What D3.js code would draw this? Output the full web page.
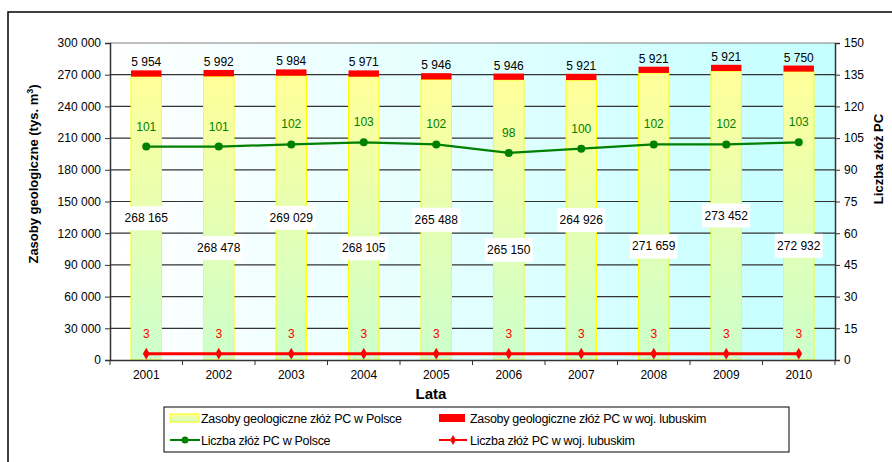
<!DOCTYPE html>
<html>
<head>
<meta charset="utf-8">
<script src="https://cdnjs.cloudflare.com/ajax/libs/d3/7.8.5/d3.min.js"></script>
<style>
  body { margin: 0; background: #fff; }
  text { font-family: Arial, "Liberation Sans", sans-serif; }
</style>
</head>
<body>
<div id="chart"></div>
<script>
// dane
var years = ["2001", "2002", "2003", "2004", "2005", "2006", "2007", "2008", "2009", "2010"];
var zasobyPolska = [268165, 268478, 269029, 268105, 265488, 265150, 264926, 271659, 273452, 272932];
var zasobyLubuskie = [5954, 5992, 5984, 5971, 5946, 5946, 5921, 5921, 5921, 5750];
var liczbaPolska = [101, 101, 102, 103, 102, 98, 100, 102, 102, 103];
var liczbaLubuskie = [3, 3, 3, 3, 3, 3, 3, 3, 3, 3];
var leftTicks = [0, 30000, 60000, 90000, 120000, 150000, 180000, 210000, 240000, 270000, 300000];
var rightTicks = [0, 15, 30, 45, 60, 75, 90, 105, 120, 135, 150];

var svgWidth = 892;
var svgHeight = 462;
var margin = { top: 43, right: 57, bottom: 102, left: 110 };
var width = svgWidth - margin.left - margin.right;
var height = svgHeight - margin.top - margin.bottom;

var fmt = function(v) { return d3.format(",")(v).replace(/,/g, " "); };

var svg = d3.select("#chart").append("svg")
    .attr("width", svgWidth)
    .attr("height", svgHeight);

var defs = svg.append("defs");
var bg = defs.append("linearGradient").attr("id", "bgGrad")
    .attr("x1", "0%").attr("y1", "0%").attr("x2", "100%").attr("y2", "0%");
bg.append("stop").attr("offset", "0%").attr("stop-color", "#ffffff");
bg.append("stop").attr("offset", "100%").attr("stop-color", "#c4ffff");

var barGrad = defs.append("linearGradient").attr("id", "barGrad")
    .attr("x1", "0%").attr("y1", "0%").attr("x2", "0%").attr("y2", "100%");
barGrad.append("stop").attr("offset", "0%").attr("stop-color", "#ffff99");
barGrad.append("stop").attr("offset", "100%").attr("stop-color", "#ccffcc");

// ramka wykresu
svg.append("rect")
    .attr("x", 8).attr("y", 12)
    .attr("width", 900).attr("height", 470)
    .attr("fill", "none").attr("stroke", "#000").attr("stroke-width", 1.5);

var chartGroup = svg.append("g")
    .attr("transform", `translate(${margin.left}, ${margin.top})`);

var xScale = d3.scaleBand()
    .domain(years)
    .range([0, width])
    .paddingInner(0.58)
    .paddingOuter(0.29);

var yLeft = d3.scaleLinear().domain([0, 300000]).range([height, 0]);
var yRight = d3.scaleLinear().domain([0, 150]).range([height, 0]);

chartGroup.append("rect")
    .attr("width", width).attr("height", height)
    .attr("fill", "url(#bgGrad)");

// linie siatki
chartGroup.selectAll(".grid")
    .data(leftTicks.slice(1))
    .enter()
    .append("line")
    .attr("x1", 0).attr("x2", width)
    .attr("y1", d => yLeft(d)).attr("y2", d => yLeft(d))
    .attr("stroke", d => d === 300000 ? "#808080" : "#333")
    .attr("stroke-width", 1.2);

// slupki
var stacks = years.map((y, i) => ({ year: y, pl: zasobyPolska[i], lub: zasobyLubuskie[i], i: i }));

chartGroup.selectAll(".barPl")
    .data(stacks)
    .enter()
    .append("rect")
    .attr("x", d => xScale(d.year))
    .attr("y", d => yLeft(d.pl))
    .attr("width", xScale.bandwidth())
    .attr("height", d => height - yLeft(d.pl))
    .attr("fill", "url(#barGrad)")
    .attr("stroke", "#ffff00")
    .attr("stroke-width", 1);

chartGroup.selectAll(".barLub")
    .data(stacks)
    .enter()
    .append("rect")
    .attr("x", d => xScale(d.year))
    .attr("y", d => yLeft(d.pl + d.lub))
    .attr("width", xScale.bandwidth())
    .attr("height", d => yLeft(d.pl) - yLeft(d.pl + d.lub))
    .attr("fill", "#ff0000");

// etykiety lubuskie (nad slupkami)
chartGroup.selectAll(".lblLub")
    .data(stacks)
    .enter()
    .append("text")
    .attr("x", d => xScale(d.year) + xScale.bandwidth() / 2)
    .attr("y", d => yLeft(d.pl + d.lub) - 4)
    .attr("text-anchor", "middle")
    .attr("font-size", 12)
    .attr("fill", "#000")
    .text(d => fmt(d.lub));

// etykiety Polska (w bialych ramkach)
var plLabels = chartGroup.selectAll(".lblPl")
    .data(stacks)
    .enter()
    .append("g")
    .attr("transform", d => `translate(${xScale(d.year) + xScale.bandwidth() / 2}, ${yLeft(d.pl / 2) + (d.i % 2 ? 30 : 0)})`);

plLabels.append("rect")
    .attr("x", -24).attr("y", -12)
    .attr("width", 48).attr("height", 24)
    .attr("fill", "#fff");

plLabels.append("text")
    .attr("y", 4)
    .attr("text-anchor", "middle")
    .attr("font-size", 12)
    .text(d => fmt(d.pl));

// osie
var leftAxis = d3.axisLeft(yLeft).tickValues(leftTicks).tickSize(5).tickPadding(4).tickFormat(fmt);
var rightAxis = d3.axisRight(yRight).tickValues(rightTicks).tickSize(5).tickPadding(4);

var gl = chartGroup.append("g").call(leftAxis);
var gr = chartGroup.append("g").attr("transform", `translate(${width}, 0)`).call(rightAxis);
[gl, gr].forEach(function(g) {
    g.select(".domain").attr("stroke", "#333").attr("stroke-width", 1.5);
    g.selectAll(".tick line").attr("stroke", "#333");
    g.selectAll(".tick text").attr("font-size", 12).attr("fill", "#000")
        .style("font-family", "Arial, 'Liberation Sans', sans-serif");
});

var gx = chartGroup.append("g")
    .attr("transform", `translate(0, ${height})`)
    .call(d3.axisBottom(xScale).tickSize(0).tickPadding(10));
gx.select(".domain").attr("stroke", "#333").attr("stroke-width", 1.5);
gx.selectAll(".tick text").attr("font-size", 12).attr("fill", "#000")
    .style("font-family", "Arial, 'Liberation Sans', sans-serif");

// znaczniki osi X miedzy kategoriami
chartGroup.selectAll(".xtick")
    .data(d3.range(years.length + 1))
    .enter()
    .append("line")
    .attr("x1", i => i * xScale.step()).attr("x2", i => i * xScale.step())
    .attr("y1", height).attr("y2", height + 5)
    .attr("stroke", "#333");

// linie
var linePl = d3.line().x((d, i) => xScale(years[i]) + xScale.bandwidth() / 2).y(d => yRight(d));

chartGroup.append("path")
    .datum(liczbaPolska)
    .attr("d", linePl)
    .attr("fill", "none")
    .attr("stroke", "#008000")
    .attr("stroke-width", 2.2);

chartGroup.selectAll(".ptPl")
    .data(liczbaPolska)
    .enter()
    .append("circle")
    .attr("cx", (d, i) => xScale(years[i]) + xScale.bandwidth() / 2)
    .attr("cy", d => yRight(d))
    .attr("r", 4)
    .attr("fill", "#008000");

chartGroup.selectAll(".lblLiczPl")
    .data(liczbaPolska)
    .enter()
    .append("text")
    .attr("x", (d, i) => xScale(years[i]) + xScale.bandwidth() / 2)
    .attr("y", d => yRight(d) - 16)
    .attr("text-anchor", "middle")
    .attr("font-size", 12)
    .attr("fill", "#008000")
    .text(d => d);

chartGroup.append("path")
    .datum(liczbaLubuskie)
    .attr("d", linePl)
    .attr("fill", "none")
    .attr("stroke", "#ff0000")
    .attr("stroke-width", 3);

chartGroup.selectAll(".ptLub")
    .data(liczbaLubuskie)
    .enter()
    .append("path")
    .attr("transform", (d, i) => `translate(${xScale(years[i]) + xScale.bandwidth() / 2}, ${yRight(d)})`)
    .attr("d", d3.symbol().type(d3.symbolDiamond).size(40))
    .attr("fill", "#ff0000");

chartGroup.selectAll(".lblLiczLub")
    .data(liczbaLubuskie)
    .enter()
    .append("text")
    .attr("x", (d, i) => xScale(years[i]) + xScale.bandwidth() / 2)
    .attr("y", d => yRight(d) - 16)
    .attr("text-anchor", "middle")
    .attr("font-size", 12)
    .attr("fill", "#ff0000")
    .text(d => d);

// tytuly osi
svg.append("text")
    .attr("transform", "translate(38, 174) rotate(-90)")
    .attr("text-anchor", "middle")
    .attr("font-size", 13)
    .attr("font-weight", "bold")
    .html("Zasoby geologiczne (tys. m<tspan dy='-5' font-size='9'>3</tspan><tspan dy='5'>)</tspan>");

svg.append("text")
    .attr("transform", "translate(883, 159) rotate(-90)")
    .attr("text-anchor", "middle")
    .attr("font-size", 13)
    .attr("font-weight", "bold")
    .text("Liczba złóż PC");

svg.append("text")
    .attr("x", 431).attr("y", 399)
    .attr("text-anchor", "middle")
    .attr("font-size", 15)
    .attr("font-weight", "bold")
    .text("Lata");

// legenda
var legend = svg.append("g").attr("transform", "translate(164, 407)");
legend.append("rect")
    .attr("width", 625).attr("height", 45)
    .attr("fill", "#fff").attr("stroke", "#000").attr("stroke-width", 1);

var items = [
    { label: "Zasoby geologiczne złóż PC w Polsce", type: "bar", x: 6, y: 11 },
    { label: "Zasoby geologiczne złóż PC w woj. lubuskim", type: "barRed", x: 275, y: 11 },
    { label: "Liczba złóż PC w Polsce", type: "lineGreen", x: 6, y: 33 },
    { label: "Liczba złóż PC w woj. lubuskim", type: "lineRed", x: 275, y: 33 }
];

items.forEach(function(it) {
    var g = legend.append("g").attr("transform", `translate(${it.x}, ${it.y})`);
    if (it.type === "bar") {
        g.append("rect").attr("x", 0).attr("y", -4).attr("width", 29).attr("height", 8)
            .attr("fill", "url(#barGrad)").attr("stroke", "#ffff00");
    } else if (it.type === "barRed") {
        g.append("rect").attr("x", 0).attr("y", -4).attr("width", 26).attr("height", 8)
            .attr("fill", "#ff0000");
    } else if (it.type === "lineGreen") {
        g.append("line").attr("x1", 0).attr("x2", 30).attr("stroke", "#008000").attr("stroke-width", 2);
        g.append("circle").attr("cx", 15).attr("r", 3.5).attr("fill", "#008000");
    } else {
        g.append("line").attr("x1", 0).attr("x2", 28).attr("stroke", "#ff0000").attr("stroke-width", 2);
        g.append("path").attr("transform", "translate(14,0)")
            .attr("d", d3.symbol().type(d3.symbolDiamond).size(30)).attr("fill", "#ff0000");
    }
    g.append("text")
        .attr("x", 31).attr("y", 4.5)
        .attr("font-size", 12.5)
        .attr("letter-spacing", "-0.3")
        .text(it.label);
});
</script>
</body>
</html>
